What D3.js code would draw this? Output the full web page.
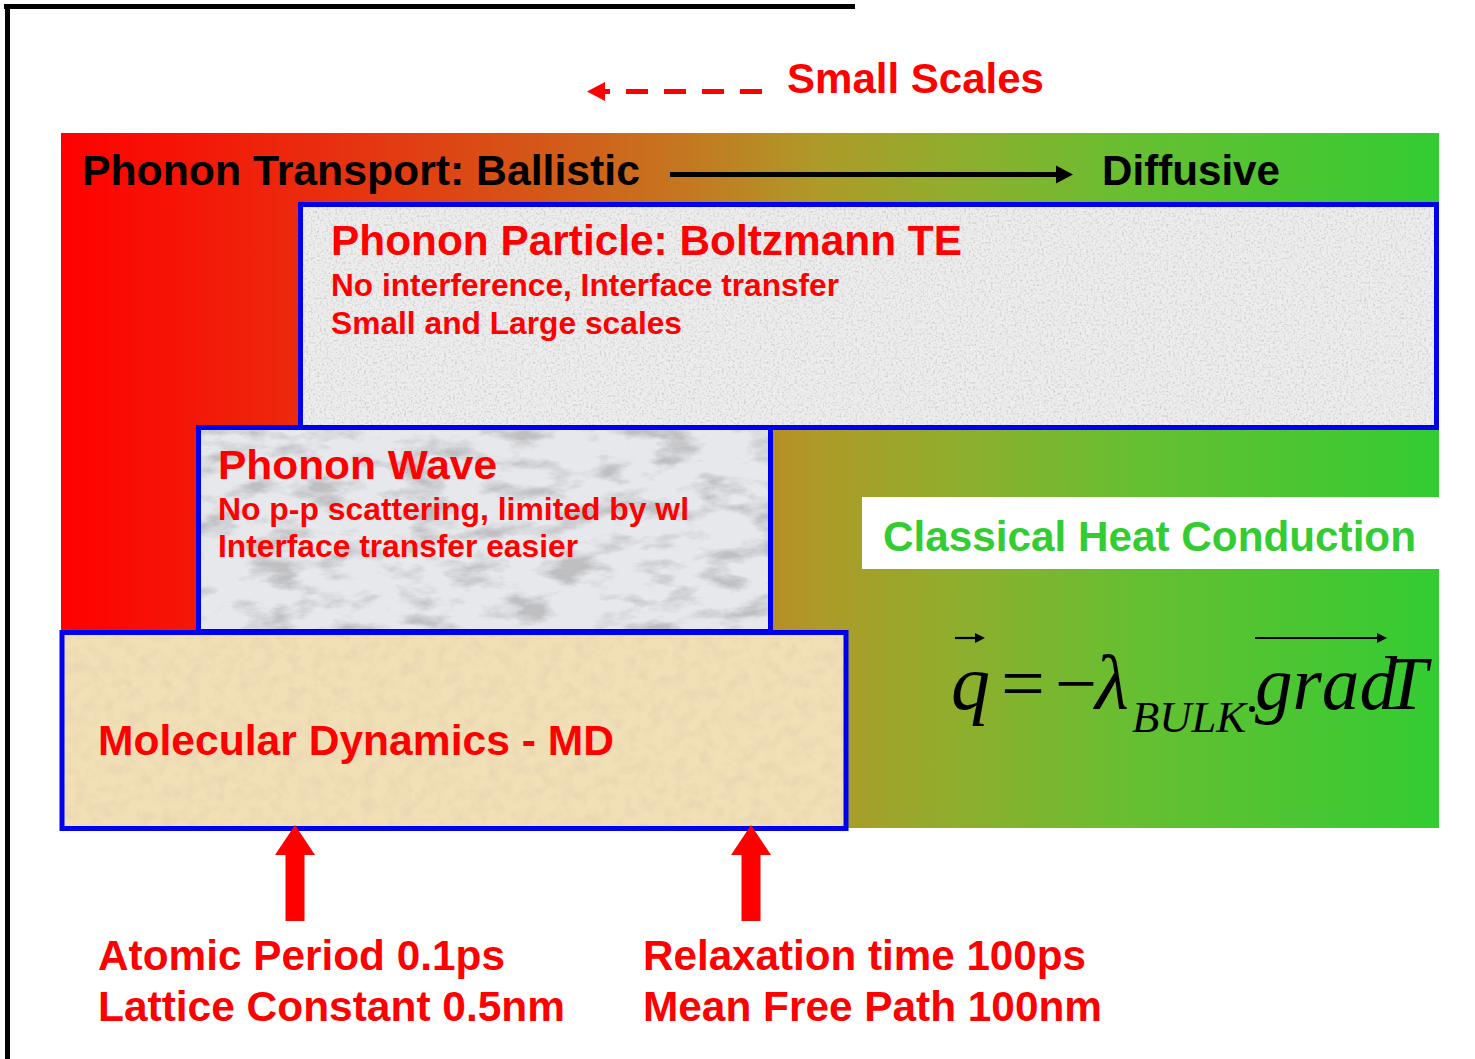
<!DOCTYPE html>
<html>
<head>
<meta charset="utf-8">
<script src="https://cdn.jsdelivr.net/npm/d3@7"></script>
<style>
  html, body { margin: 0; padding: 0; background: #fff; }
  svg { display: block; }
  text { font-family: "Liberation Sans", Arial, sans-serif; font-weight: bold; }
  .math { font-family: "Liberation Serif", "Times New Roman", serif; font-style: italic; font-weight: normal; }
</style>
</head>
<body>
<svg id="chart"></svg>
<script>
// ---- content ----
const topLabel = "Small Scales";
const transportLabels = ["Phonon Transport: Ballistic", "Diffusive"];
const particleLines = ["Phonon Particle: Boltzmann TE", "No interference, Interface transfer", "Small and Large scales"];
const waveLines = ["Phonon Wave", "No p-p scattering, limited by wl", "Interface transfer easier"];
const mdLines = ["Molecular Dynamics - MD"];
const classicalLabel = "Classical Heat Conduction";
const leftNotes = ["Atomic Period 0.1ps", "Lattice Constant 0.5nm"];
const rightNotes = ["Relaxation time 100ps", "Mean Free Path 100nm"];
const gradientStops = [
  [0, "#ff0000"], [0.2, "#e8300f"], [0.35, "#d45818"], [0.45, "#c57620"],
  [0.55, "#ae9a28"], [0.65, "#8fae2d"], [0.78, "#66bf31"], [1, "#33cc33"]
];

// ---- layout ----
const width = 1475, height = 1059;
const RED = "#ff0000", BLUE = "#0000ee";

const svg = d3.select("#chart").attr("width", width).attr("height", height);
const defs = svg.append("defs");

// background gradient
const grad = defs.append("linearGradient").attr("id", "bg").attr("x1", 0).attr("x2", 1).attr("y1", 0).attr("y2", 0);
grad.selectAll("stop").data(gradientStops).enter().append("stop")
    .attr("offset", d => d[0]).attr("stop-color", d => d[1]);

// textures made with noise filters
function noiseFilter(id, freq, octaves, seed, rgb, alphaK, alphaB) {
  const f = defs.append("filter").attr("id", id)
      .attr("x", 0).attr("y", 0).attr("width", 1).attr("height", 1);
  f.append("feTurbulence").attr("type", "fractalNoise").attr("baseFrequency", freq)
      .attr("numOctaves", octaves).attr("seed", seed).attr("result", "n");
  f.append("feColorMatrix").attr("in", "n").attr("type", "matrix")
      .attr("values", `0 0 0 0 ${rgb[0]} 0 0 0 0 ${rgb[1]} 0 0 0 0 ${rgb[2]} ${alphaK} 0 0 0 ${alphaB}`)
      .attr("result", "dots");
  f.append("feComposite").attr("in", "dots").attr("in2", "SourceGraphic").attr("operator", "in").attr("result", "d2");
  const m = f.append("feMerge");
  m.append("feMergeNode").attr("in", "SourceGraphic");
  m.append("feMergeNode").attr("in", "d2");
}
noiseFilter("speckle", "0.45", 2, 4, [0.64, 0.64, 0.64], 3.2, -1.5);
noiseFilter("marble", "0.02 0.05", 5, 9, [0.52, 0.52, 0.54], 3.4, -1.6);
noiseFilter("sand", "0.08", 3, 2, [0.82, 0.68, 0.45], 2.6, -1.1);

// frame
svg.append("line").attr("x1", 4).attr("x2", 855).attr("y1", 6.5).attr("y2", 6.5)
    .attr("stroke", "#000").attr("stroke-width", 5);
svg.append("line").attr("x1", 7.5).attr("x2", 7.5).attr("y1", 4).attr("y2", height)
    .attr("stroke", "#000").attr("stroke-width", 5);

// gradient panel
svg.append("rect").attr("x", 61).attr("y", 133).attr("width", 1378).attr("height", 695).attr("fill", "url(#bg)");

// text helper
function label(g, str, x, y, size, fill, len) {
  const t = g.append("text").attr("x", x).attr("y", y).attr("font-size", size).attr("fill", fill).text(str);
  if (len) t.attr("textLength", len).attr("lengthAdjust", "spacingAndGlyphs");
  return t;
}

// "Small Scales" with dashed arrow
label(svg, topLabel, 787, 93, 42, RED, 257);
svg.append("line").attr("x1", 626).attr("x2", 763).attr("y1", 91.5).attr("y2", 91.5)
    .attr("stroke", RED).attr("stroke-width", 5).attr("stroke-dasharray", "22 16");
svg.append("line").attr("x1", 603).attr("x2", 610).attr("y1", 91.5).attr("y2", 91.5)
    .attr("stroke", RED).attr("stroke-width", 5);
svg.append("path").attr("d", "M587,91.5 L605,82 L605,101 Z").attr("fill", RED);

// Ballistic -> Diffusive
label(svg, transportLabels[0], 82, 185, 42, "#000", 558);
label(svg, transportLabels[1], 1102, 185, 42, "#000", 178);
svg.append("line").attr("x1", 670).attr("x2", 1060).attr("y1", 174.5).attr("y2", 174.5)
    .attr("stroke", "#000").attr("stroke-width", 5);
svg.append("path").attr("d", "M1073,174.5 L1056,165.5 L1056,183.5 Z").attr("fill", "#000");

// classical heat conduction band
svg.append("rect").attr("x", 862).attr("y", 497).attr("width", 577).attr("height", 72).attr("fill", "#fff");
label(svg, classicalLabel, 883, 551, 42, "#33cc33", 533);

// boxes
const boxes = [
  { x: 300.5, y: 204.5, w: 1136, h: 223, fill: "#ededed", filter: "speckle" },
  { x: 198.5, y: 427.5, w: 572, h: 204, fill: "#e6e8ec", filter: "marble" },
  { x: 62, y: 632.5, w: 784, h: 196, fill: "#f1dfb6", filter: "sand" }
];
boxes.forEach(b => {
  svg.append("rect").attr("x", b.x).attr("y", b.y).attr("width", b.w).attr("height", b.h)
      .attr("fill", b.fill).attr("filter", `url(#${b.filter})`);
  svg.append("rect").attr("x", b.x).attr("y", b.y).attr("width", b.w).attr("height", b.h)
      .attr("fill", "none").attr("stroke", BLUE).attr("stroke-width", 5);
});

label(svg, particleLines[0], 331, 255, 42, RED, 631);
label(svg, particleLines[1], 331, 296, 32, RED, 508);
label(svg, particleLines[2], 331, 334, 32, RED, 351);

label(svg, waveLines[0], 218, 479, 41, RED, 279);
label(svg, waveLines[1], 218, 520, 31, RED, 471);
label(svg, waveLines[2], 218, 557, 31, RED, 360);

label(svg, mdLines[0], 98, 755, 42, RED, 516);

// formula  q = -lambda_BULK . grad T
const fm = svg.append("g").attr("fill", "#000");
fm.append("text").attr("class", "math").attr("x", 951).attr("y", 709).attr("font-size", 78).text("q");
fm.append("text").attr("class", "math").attr("x", 1001).attr("y", 709).attr("font-size", 76)
    .style("font-style", "normal").attr("textLength", 44).attr("lengthAdjust", "spacingAndGlyphs").text("=");
fm.append("text").attr("class", "math").attr("x", 1055).attr("y", 709).attr("font-size", 76)
    .style("font-style", "normal").attr("textLength", 42).attr("lengthAdjust", "spacingAndGlyphs").text("\u2212");
fm.append("text").attr("class", "math").attr("x", 1095).attr("y", 709).attr("font-size", 78).text("\u03bb");
fm.append("text").attr("class", "math").attr("x", 1132).attr("y", 732).attr("font-size", 44)
    .attr("textLength", 114).attr("lengthAdjust", "spacingAndGlyphs").text("BULK");
fm.append("circle").attr("cx", 1252).attr("cy", 709).attr("r", 3);
const gt = fm.append("text").attr("class", "math").attr("x", 1255).attr("y", 709).attr("font-size", 76);
gt.append("tspan").attr("textLength", 142).attr("lengthAdjust", "spacingAndGlyphs").text("grad");
gt.append("tspan").attr("dx", -12).text("T");
// vector arrows
[[955, 985], [1255, 1387]].forEach(a => {
  fm.append("line").attr("x1", a[0]).attr("x2", a[1] - 6).attr("y1", 638).attr("y2", 638)
      .attr("stroke", "#000").attr("stroke-width", 2.2);
  fm.append("path").attr("d", `M${a[1]},638 L${a[1] - 10},633 L${a[1] - 10},643 Z`);
});

// red up arrows
[295, 751].forEach(cx => {
  svg.append("path")
      .attr("d", `M${cx},825 L${cx + 20},855 L${cx + 9.5},855 L${cx + 9.5},921 L${cx - 9.5},921 L${cx - 9.5},855 L${cx - 20},855 Z`)
      .attr("fill", RED);
});

// bottom notes
label(svg, leftNotes[0], 98, 970, 42, RED, 407);
label(svg, leftNotes[1], 98, 1021, 42, RED, 467);
label(svg, rightNotes[0], 643, 970, 42, RED, 443);
label(svg, rightNotes[1], 643, 1021, 42, RED, 459);
</script>
</body>
</html>
